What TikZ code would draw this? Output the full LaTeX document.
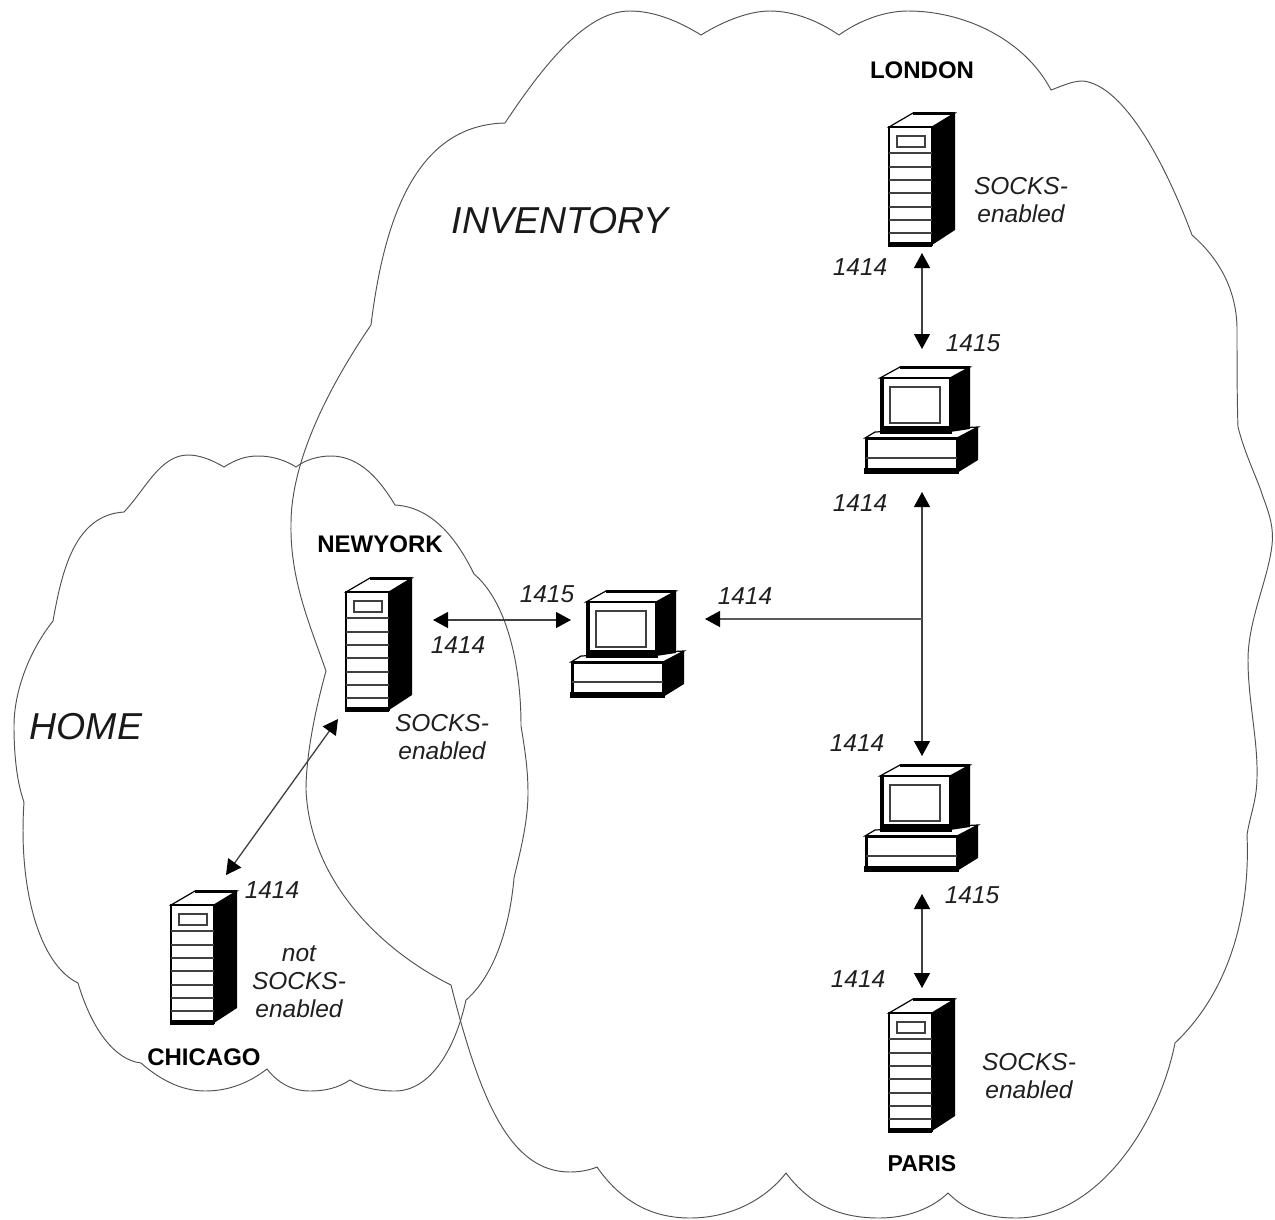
\documentclass[tikz,border=0pt]{standalone}
\usepackage{fontspec}
\setmainfont{Liberation Sans}
\usetikzlibrary{arrows.meta}
\tikzset{
  x=1pt,y=-1pt,
  cloud line/.style={draw=black!68,line width=0.95pt,line join=miter},
  link/.style={draw=black!75,line width=1.3pt,{Triangle[length=15pt,width=16pt,color=black]}-{Triangle[length=15pt,width=16pt,color=black]},shorten >=0pt,shorten <=0pt},
  linkone/.style={draw=black!65,line width=1.3pt,-{Triangle[length=15pt,width=16pt,color=black]}},
  port/.style={font=\fontsize{24.5}{28}\selectfont\itshape,inner sep=0pt,align=center,text=black!88},
  hostname/.style={font=\fontsize{24}{28}\selectfont\bfseries,inner sep=0pt},
  zone/.style={font=\fontsize{37.5}{40}\selectfont\itshape,inner sep=0pt,text=black!90},
  server/.pic={
    \fill[black] (43,0)--(66,-15)--(66,-132)--(43,-118)--cycle;
    \draw[fill=white,line width=1.2pt] (0,-118)--(24,-132)--(66,-132)--(43,-118)--cycle;
    \draw[line width=3pt] (24,-132)--(66,-132);
    \draw[fill=white,line width=2.6pt] (0,0) rectangle (43,-118);
    \fill[black] (-1,-3) rectangle (43,1.5);
    \draw[draw=black!75,line width=1.3pt] (8,-109) rectangle (36,-98);
    \foreach \yy in {-92,-78,-65,-52,-38,-25,-12}
      \draw[draw=black!75,line width=1.3pt] (0,\yy)--(43,\yy);
  },
  computer/.pic={
    % base
    \fill[black] (92,-35)--(113,-46)--(113,-13)--(92,0)--cycle;
    \draw[fill=white,line width=1.2pt] (0,-35)--(10,-41)--(113,-46)--(92,-35)--cycle;
    \draw[fill=white,line width=3pt] (1.5,-1) rectangle (92,-35);
    \fill[black] (-1,-5) rectangle (92,1);
    \draw[draw=black!75,line width=1.3pt] (1,-15)--(92,-15);
    % monitor
    \fill[black] (85,-95)--(105,-106)--(105,-44)--(85,-41)--cycle;
    \draw[fill=white,line width=1.2pt] (15,-95)--(35,-106)--(105,-106)--(85,-95)--cycle;
    \draw[line width=3pt] (35,-106)--(105,-106);
    \draw[fill=white,line width=2pt] (16,-42) rectangle (85,-95);
    \fill[black] (14.5,-95) rectangle (19,-40);
    \fill[black] (15,-47) rectangle (87,-39);
    \draw[draw=black!75,line width=1.5pt] (25,-86) rectangle (75,-50);
  }
}
\begin{document}
\begin{tikzpicture}
\useasboundingbox (0,0) rectangle (1275,1219);
% INVENTORY cloud
\draw[cloud line] (505,123)
 .. controls (550,55) and (590,11) .. (630,11)
 .. controls (655,11) and (680,22) .. (701,35)
 .. controls (722,22) and (748,11) .. (770,11)
 .. controls (795,11) and (820,22) .. (839,35)
 .. controls (860,20) and (885,11) .. (908,11)
 .. controls (965,11) and (1025,40) .. (1051,90)
 .. controls (1062,86) and (1072,81) .. (1083,81)
 .. controls (1120,85) and (1160,150) .. (1192,235)
 .. controls (1215,255) and (1236,285) .. (1237,327)
 .. controls (1237,360) and (1237,400) .. (1238,427)
 .. controls (1245,455) and (1258,480) .. (1263,497)
 .. controls (1270,515) and (1274,530) .. (1272,545)
 .. controls (1268,580) and (1248,620) .. (1248,660)
 .. controls (1248,700) and (1258,740) .. (1257,777)
 .. controls (1257,800) and (1250,815) .. (1247,835)
 .. controls (1250,900) and (1236,985) .. (1175,1043)
 .. controls (1160,1120) and (1100,1218) .. (1016,1218)
 .. controls (985,1218) and (965,1210) .. (948,1193)
 .. controls (930,1210) and (905,1218) .. (879,1218)
 .. controls (840,1218) and (810,1205) .. (786,1173)
 .. controls (765,1200) and (730,1218) .. (690,1218)
 .. controls (650,1218) and (620,1200) .. (597,1167)
 .. controls (590,1170) and (580,1172) .. (570,1172)
 .. controls (510,1172) and (480,1100) .. (451,985)
 .. controls (380,950) and (310,880) .. (306,790)
 .. controls (306,750) and (318,700) .. (326,671)
 .. controls (310,625) and (290,580) .. (291,524)
 .. controls (291,460) and (330,385) .. (371,325)
 .. controls (385,210) and (420,125) .. (505,123) -- cycle;
% HOME cloud
\draw[cloud line] (224,467)
 .. controls (235,460) and (245,456) .. (258,456)
 .. controls (272,456) and (285,460) .. (296,467)
 .. controls (305,460) and (318,456) .. (331,456)
 .. controls (360,456) and (380,480) .. (395,505)
 .. controls (430,507) and (455,535) .. (474,574)
 .. controls (505,600) and (521,660) .. (521,726)
 .. controls (525,750) and (528,770) .. (528,793)
 .. controls (528,825) and (518,860) .. (514,878)
 .. controls (510,925) and (495,975) .. (466,1000)
 .. controls (455,1050) and (430,1091) .. (395,1091)
 .. controls (378,1091) and (362,1088) .. (350,1080)
 .. controls (338,1088) and (325,1091) .. (310,1091)
 .. controls (292,1091) and (278,1083) .. (267,1069)
 .. controls (250,1082) and (230,1091) .. (205,1091)
 .. controls (180,1091) and (158,1078) .. (141,1063)
 .. controls (115,1060) and (92,1030) .. (78,983)
 .. controls (40,965) and (18,890) .. (24,802)
 .. controls (16,780) and (14,750) .. (14,726)
 .. controls (14,690) and (30,650) .. (53,621)
 .. controls (62,570) and (75,515) .. (124,512)
 .. controls (145,490) and (160,455) .. (188,455)
 .. controls (200,455) and (212,460) .. (224,467) -- cycle;
% zone names
\node[zone] (inv) at (560,221) {INVENTORY};
\node[zone] (home) at (86,727) {HOME};
% icons
\pic at (889,245) {server};
\pic at (346,710) {server};
\pic at (171,1023) {server};
\pic at (889,1131) {server};
\pic at (865,473) {computer};
\pic at (571,697) {computer};
\pic at (865,871) {computer};
% host names
\node[hostname] (london) at (922,70) {LONDON};
\node[hostname] (newyork) at (380,544) {NEWYORK};
\node[hostname] (chicago) at (204,1057) {CHICAGO};
\node[hostname] (paris) at (922,1164) {\fontsize{23}{28}\selectfont PARIS};
% port labels
\node[port] (p1) at (860,267) {1414};
\node[port] (p2) at (973,343) {1415};
\node[port] (p3) at (860,503) {1414};
\node[port] (p4) at (745,596) {1414};
\node[port] (p5) at (547,594) {1415};
\node[port] (p6) at (458,645) {1414};
\node[port] (p7) at (857,743) {1414};
\node[port] (p8) at (972,895) {1415};
\node[port] (p9) at (858,979) {1414};
\node[port] (p10) at (272,890) {1414};
\node[port] (s1) at (1021,200) {SOCKS-\\enabled};
\node[port] (s2) at (442,737) {SOCKS-\\enabled};
\node[port] (s3) at (1029,1076) {SOCKS-\\enabled};
\node[port] (s4) at (299,982) {not\\SOCKS-\\enabled};
% connector ends
\coordinate (lonS) at (922,253);
\coordinate (pcaN) at (922,349);
\coordinate (pcaS) at (922,492);
\coordinate (pcbN) at (922,756);
\coordinate (pcbS) at (922,894);
\coordinate (parN) at (922,988);
\coordinate (junc) at (922,619);
\coordinate (pcmE) at (705,619);
\coordinate (pcmW) at (571,620);
\coordinate (nyE) at (433,620);
\coordinate (nyS) at (338,719);
\coordinate (chiN) at (226,875);
% connectors
\draw[link] (lonS) -- (pcaN);
\draw[link] (pcaS) -- (pcbN);
\draw[linkone] (junc) -- (pcmE);
\draw[link] (pcmW) -- (nyE);
\draw[link] (pcbS) -- (parN);
\draw[link] (nyS) -- (chiN);
\end{tikzpicture}
\end{document}
